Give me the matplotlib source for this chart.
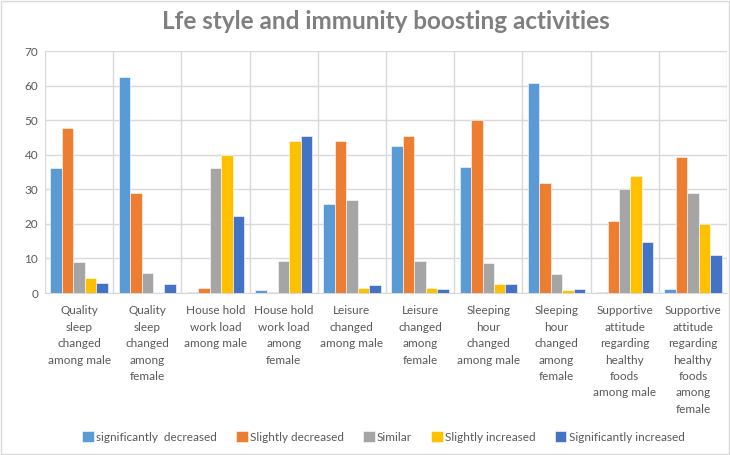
import numpy as np
import matplotlib.pyplot as plt
from matplotlib.patches import Rectangle

categories = [
    "Quality\nsleep\nchanged\namong male",
    "Quality\nsleep\nchanged\namong\nfemale",
    "House hold\nwork load\namong male",
    "House hold\nwork load\namong\nfemale",
    "Leisure\nchanged\namong male",
    "Leisure\nchanged\namong\nfemale",
    "Sleeping\nhour\nchanged\namong male",
    "Sleeping\nhour\nchanged\namong\nfemale",
    "Supportive\nattitude\nregarding\nhealthy\nfoods\namong male",
    "Supportive\nattitude\nregarding\nhealthy\nfoods\namong\nfemale",
]
series_names = ["significantly  decreased", "Slightly decreased", "Similar",
                "Slightly increased", "Significantly increased"]
sig_decreased = [36.1, 62.6, 0.4, 0.9, 25.6, 42.4, 36.4, 60.7, 0.4, 1.3]
slight_decreased = [47.8, 28.8, 1.4, 0.4, 44.0, 45.5, 50.0, 31.9, 20.9, 39.2]
similar = [9.1, 5.9, 36.1, 9.3, 27.0, 9.3, 8.7, 5.4, 30.2, 28.8]
slight_increased = [4.2, 0.0, 39.9, 44.0, 1.4, 1.5, 2.5, 0.9, 33.8, 19.9]
sig_increased = [2.8, 2.6, 22.4, 45.5, 2.2, 1.1, 2.5, 1.3, 14.8, 10.9]
colors = ["#5B9BD5", "#ED7D31", "#A5A5A5", "#FFC000", "#4472C4"]

series = [sig_decreased, slight_decreased, similar, slight_increased, sig_increased]

plt.rcParams["font.family"] = ["Lato", "DejaVu Sans"]

fig = plt.figure(figsize=(7.3, 4.55), dpi=100)
ax = fig.add_axes([45 / 730, 1 - 293 / 455, 682 / 730, 242 / 455])

x = np.arange(len(categories)) + 0.5
w = 0.168
for i, (vals, name, col) in enumerate(zip(series, series_names, colors)):
    ax.bar(x + (i - 2) * w, vals, w, color=col, label=name, zorder=3,
           edgecolor="white", linewidth=0.4)

ax.set_xlim(0, len(categories))
ax.set_ylim(0, 70)
ax.set_yticks(range(0, 71, 10))
ax.set_xticks(x)
ax.set_xticklabels(categories, fontsize=8.5, color="#595959", linespacing=1.6)
ax.set_xticks(np.arange(len(categories) + 1), minor=True)
ax.tick_params(axis="x", which="both", length=0, pad=9)
ax.tick_params(axis="y", length=0, labelsize=8.5, colors="#595959", pad=5)
ax.grid(axis="y", color="#D9D9D9", linewidth=1, zorder=0)
ax.grid(axis="x", which="minor", color="#D9D9D9", linewidth=1, zorder=0)
for s in ["top", "right", "left"]:
    ax.spines[s].set_visible(False)
ax.spines["bottom"].set_color("#D9D9D9")

fig.text(0.529, 0.952, "Lfe style and immunity boosting activities", ha="center",
         va="center", fontsize=17.5, fontweight="bold", color="#7F7F7F")

fig.legend(loc="center", bbox_to_anchor=(0.525, 1 - 437 / 455), ncol=5, frameon=False,
           fontsize=8.5, handlelength=1.0, handleheight=1.0, handletextpad=0.2,
           columnspacing=1.6, labelcolor="#595959")

fig.patches.append(Rectangle((0.002, 0.002), 0.996, 0.996, transform=fig.transFigure,
                             fill=False, edgecolor="#D9D9D9", linewidth=1))

fig.savefig("out.png", dpi=100)
